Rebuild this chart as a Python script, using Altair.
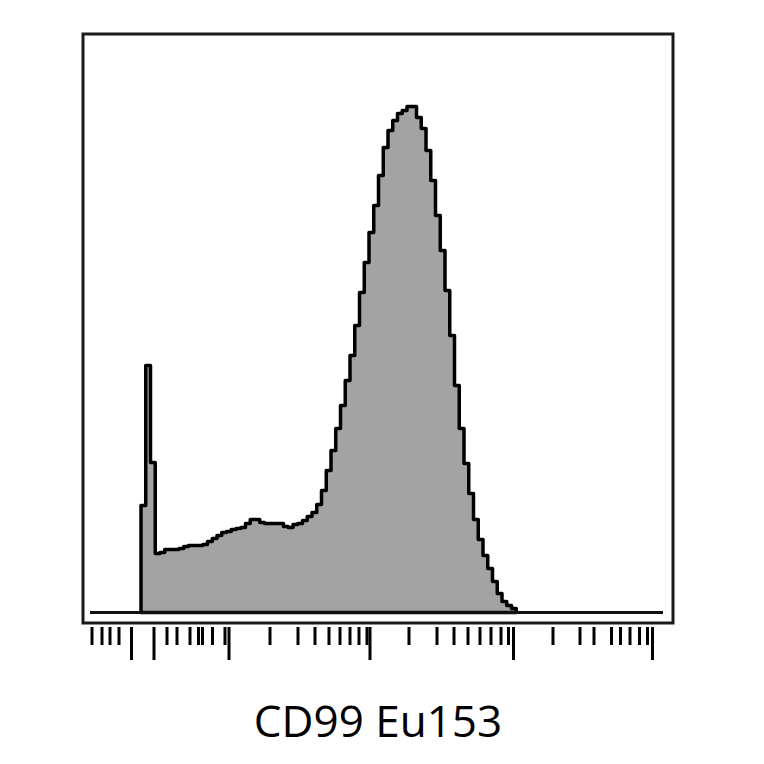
import altair as alt
import numpy as np
import pandas as pd

# Histogram (CD99 Eu153, arcsinh channel units; 0 = zero tick)
bin_start = -13.0
bin_width = 4.75
counts = [107, 247, 150, 59, 60, 63, 63, 63, 64, 66,
          67, 67, 67, 68, 71, 74, 77, 80, 81, 83,
          84, 85, 89, 93, 93, 90, 89, 89, 89, 89,
          86, 85, 88, 89, 92, 96, 100, 108, 122, 142,
          162, 184, 207, 232, 257, 287, 320, 350, 380, 407,
          437, 465, 482, 492, 499, 502, 506, 506, 495, 484,
          462, 432, 397, 362, 322, 277, 227, 184, 149, 119,
          93, 73, 57, 44, 31, 19, 11, 7, 4]

# Axis tick values (channel units)
major_ticks = [-22.5, 0, 75, 216, 359.5, 498.5]
minor_ticks = [-62, -52, -44, -35,
               13, 23, 36, 44.5, 48.5, 58.5, 71,
               116, 144, 161, 175, 186, 196, 205, 213,
               255, 283, 300, 314, 326, 337, 347, 354.5,
               399, 426, 440, 457.5, 466.5, 476, 485.5, 493.5]

baseline_extent = [-64, 509]
x_domain = [-71, 519]
y_domain = [-10.5, 578.5]

title_text = "CD99 Eu153"

W, H = 590, 589

edges = bin_start + bin_width * np.arange(len(counts) + 1)
hist = pd.DataFrame({"x": edges, "count": counts + [0]})

xs = alt.Scale(domain=x_domain, nice=False, zero=False)
ys = alt.Scale(domain=y_domain, nice=False, zero=False)

area = alt.Chart(hist).mark_area(
    interpolate="step-after", fill="#a3a3a3", stroke="#000000",
    strokeWidth=3.5, strokeJoin="round"
).encode(
    x=alt.X("x:Q", scale=xs, axis=None),
    y=alt.Y("count:Q", scale=ys, axis=None),
)

base_df = pd.DataFrame({"x": [baseline_extent[0]], "x2": [baseline_extent[1]], "y": [0]})
baseline = alt.Chart(base_df).mark_rule(color="#111111", strokeWidth=3).encode(
    x=alt.X("x:Q", scale=xs, axis=None),
    x2="x2:Q",
    y=alt.Y("y:Q", scale=ys, axis=None),
)

major_df = pd.DataFrame({"t": major_ticks})
minor_df = pd.DataFrame({"t": minor_ticks})

major = alt.Chart(major_df).mark_rule(color="#000000", strokeWidth=3).encode(
    x=alt.X("t:Q", scale=xs, axis=None),
    y=alt.value(H + 4),
    y2=alt.value(H + 37),
)
minor = alt.Chart(minor_df).mark_rule(color="#000000", strokeWidth=3).encode(
    x=alt.X("t:Q", scale=xs, axis=None),
    y=alt.value(H + 4),
    y2=alt.value(H + 22),
)

chart = alt.layer(area, baseline, minor, major).properties(
    width=W, height=H,
    autosize=alt.AutoSizeParams(type="none"),
    padding={"left": 75, "top": 26, "right": 20, "bottom": 125},
    title=alt.TitleParams(
        text=title_text, orient="bottom", anchor="middle", frame="group",
        font="Open Sans", fontSize=44, fontWeight="normal", color="#000000",
        baseline="alphabetic", offset=75,
    ),
).configure(
    background="white"
).configure_view(
    stroke="#1a1a1a", strokeWidth=3
)

chart.save("out.html", embed_options={"renderer": "svg", "actions": False})
